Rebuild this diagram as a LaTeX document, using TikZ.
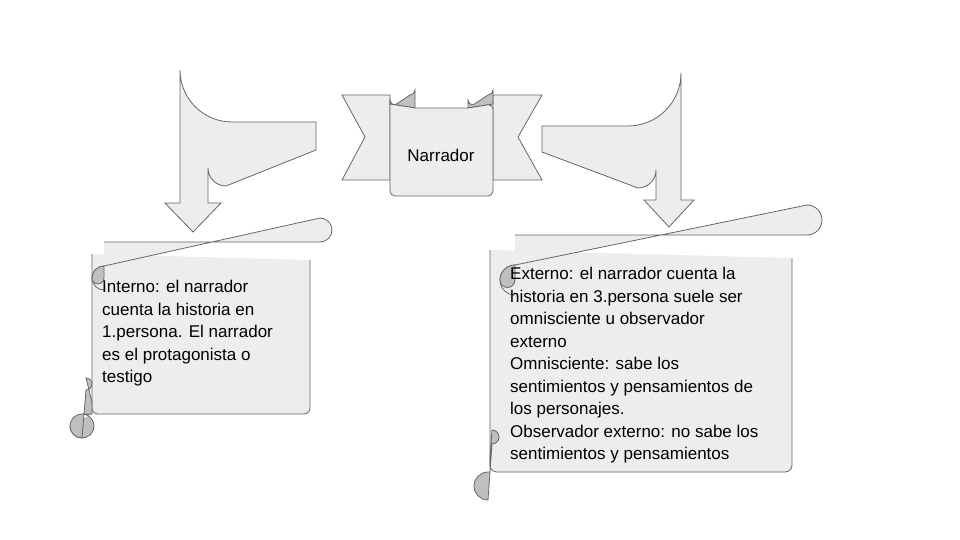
\documentclass[tikz,border=0pt]{standalone}
\usepackage{fontspec}
\setmainfont{Liberation Sans}
\usetikzlibrary{positioning}

\tikzset{
  paper/.style={draw=black!60, fill=black!7, line width=0.8pt},
  curl/.style={draw=black!60, fill=black!25, line width=0.8pt},
  scrolltext/.style={align=left, font=\fontsize{17}{22.5}\selectfont, anchor=north west, inner sep=0pt}
}

\begin{document}
\begin{tikzpicture}[x=1pt, y=-1pt]
\useasboundingbox (0,0) rectangle (960,540);

% Banner
\draw[paper] (342,95) -- (390,95) -- (390,180) -- (342,180) -- (365,137) -- cycle;
\draw[paper] (542,95) -- (493,95) -- (493,180) -- (542,180) -- (518,137) -- cycle;
\draw[curl] (390,104) -- (390,100) arc[start angle=180, end angle=90, radius=5] -- (410,95) arc[start angle=90, end angle=0, radius=5] -- (415,108) -- cycle;
\draw[curl] (468,108) -- (468,100) arc[start angle=180, end angle=90, radius=5] -- (488,95) arc[start angle=90, end angle=0, radius=5] -- (493,104) -- cycle;
\draw[paper, rounded corners=5pt] (390,104) -- (390,196) -- (493,196) -- (493,104) [sharp corners] -- (468,108) -- (415,108) -- cycle;
\node[font=\fontsize{17}{20}\selectfont] (narr) at (441,155) {Narrador};

% Left bent arrow
\draw[paper] (316,122) -- (232,122) arc[start angle=90, end angle=180, radius=52] -- (180,203) -- (165,203) -- (193,232) -- (221,203) -- (208,203) -- (208,168) arc[start angle=180, end angle=90, radius=18] -- (316,150) -- cycle;

% Right bent arrow
\draw[paper] (542,126) -- (628,126) arc[start angle=90, end angle=0, radius=53] -- (681,200) -- (694,200) -- (669,227) -- (644,200) -- (656,200) -- (656,170) arc[start angle=0, end angle=90, radius=18] -- (542,152) -- cycle;

% Left scroll
\draw[paper, rounded corners=6pt] (92,254) -- (92,414) -- (310,414) -- (310,260);
\draw[paper] (104,242) -- (320,242) arc[start angle=90, end angle=-90, radius=12] -- (104,266) arc[start angle=270, end angle=90, radius=12];
\draw[curl] (104,266) arc[start angle=270, end angle=180, radius=12] arc[start angle=180, end angle=0, radius=6] -- cycle;
\draw[curl] (92,414) -- (82,414) arc[start angle=90, end angle=360, radius=-12] ;
\draw[curl] (82,414) arc[start angle=270, end angle=90, radius=12] -- (86,390) arc[start angle=90, end angle=-90, radius=6] -- (92,402) -- (92,414) -- cycle;
\node[scrolltext] (inner) at (102,280) {Interno: el narrador\\cuenta la historia en\\1.persona. El narrador\\es el protagonista o\\testigo};

% Right scroll
\draw[paper, rounded corners=7pt] (490,250) -- (490,472) -- (792,472) -- (792,258);
\draw[paper] (515,235) -- (807,235) arc[start angle=90, end angle=-90, radius=15] -- (515,265) arc[start angle=270, end angle=90, radius=15];
\draw[curl] (515,265) arc[start angle=270, end angle=180, radius=15] arc[start angle=180, end angle=0, radius=7.5] -- cycle;
\draw[curl] (488,472) arc[start angle=270, end angle=90, radius=14] -- (492,444) arc[start angle=90, end angle=-90, radius=7] -- (490,458) -- (490,472) -- cycle;
\node[scrolltext] (outer) at (510,267) {Externo: el narrador cuenta la\\historia en 3.persona suele ser\\omnisciente u observador\\externo\\Omnisciente: sabe los\\sentimientos y pensamientos de\\los personajes.\\Observador externo: no sabe los\\sentimientos y pensamientos};
\end{tikzpicture}
\end{document}
